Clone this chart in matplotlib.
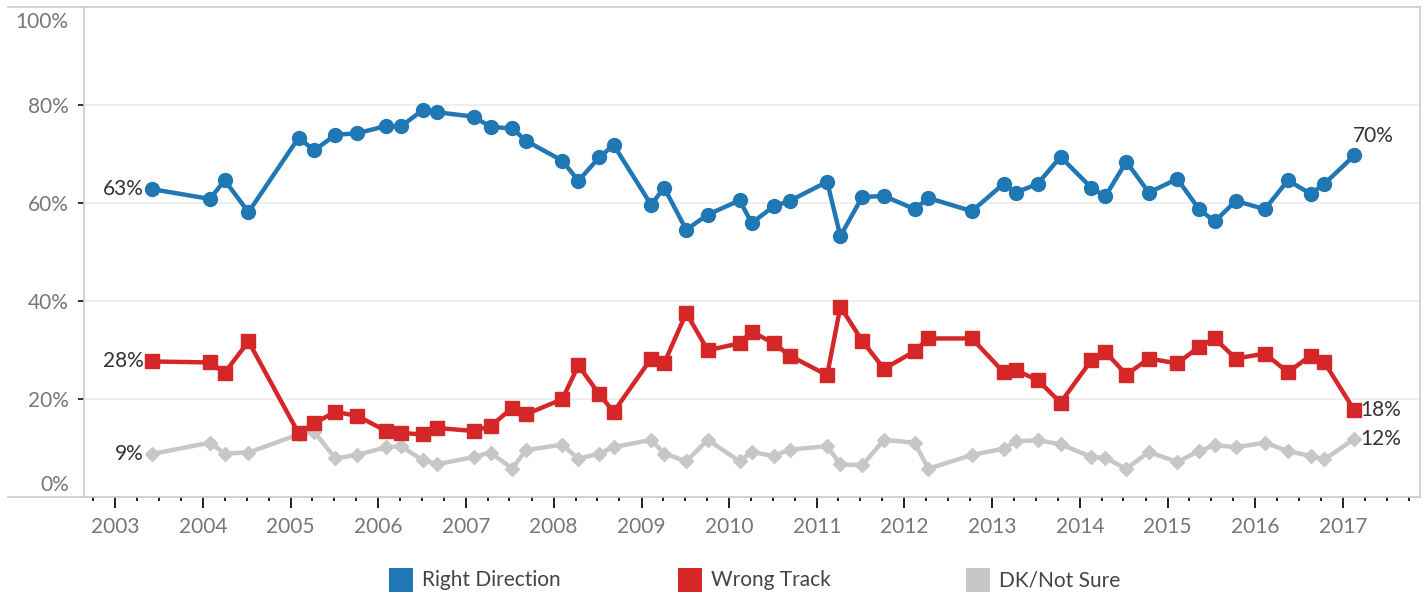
import matplotlib.pyplot as plt
import matplotlib.dates as mdates
import matplotlib.transforms as mtransforms
from matplotlib.patches import Rectangle
from matplotlib.lines import Line2D
import pandas as pd

plt.rcParams['font.family'] = ['Lato', 'DejaVu Sans']

datas = ['2003-06-03', '2004-01-30', '2004-04-01', '2004-07-09', '2005-02-03',
         '2005-04-09', '2005-07-06', '2005-10-04', '2006-02-03', '2006-04-05',
         '2006-07-06', '2006-09-03', '2007-02-03', '2007-04-13', '2007-07-13',
         '2007-09-07', '2008-02-06', '2008-04-13', '2008-07-09', '2008-09-07',
         '2009-02-10', '2009-04-05', '2009-07-06', '2009-10-04', '2010-02-13',
         '2010-04-05', '2010-07-06', '2010-09-10', '2011-02-13', '2011-04-09',
         '2011-07-09', '2011-10-08', '2012-02-13', '2012-04-09', '2012-10-08',
         '2013-02-17', '2013-04-09', '2013-07-09', '2013-10-12', '2014-02-17',
         '2014-04-16', '2014-07-13', '2014-10-15', '2015-02-10', '2015-05-12',
         '2015-07-16', '2015-10-12', '2016-02-10', '2016-05-16', '2016-08-19',
         '2016-10-15', '2017-02-17']

right_direction = [62.8, 60.8, 64.6, 58.1, 73.3, 70.7, 73.9, 74.2, 75.7, 75.6,
                   79.0, 78.5, 77.6, 75.5, 75.2, 72.7, 68.6, 64.5, 69.3, 71.8,
                   59.6, 63.1, 54.5, 57.6, 60.5, 55.9, 59.3, 60.4, 64.3, 53.2,
                   61.2, 61.4, 58.7, 61.0, 58.3, 63.9, 62.1, 63.9, 69.4, 63.1,
                   61.3, 68.4, 62.1, 64.9, 58.7, 56.2, 60.4, 58.7, 64.6, 61.8,
                   63.9, 69.7]

wrong_track = [27.6, 27.4, 25.3, 31.7, 12.9, 15.0, 17.3, 16.5, 13.4, 13.0,
               12.7, 14.0, 13.4, 14.4, 18.1, 16.8, 19.9, 26.8, 20.9, 17.3,
               28.2, 27.2, 37.5, 29.9, 31.3, 33.7, 31.3, 28.8, 24.8, 38.8,
               31.8, 26.1, 29.7, 32.3, 32.3, 25.4, 25.8, 23.8, 19.2, 27.8,
               29.6, 24.9, 28.2, 27.2, 30.6, 32.3, 28.2, 29.2, 25.4, 28.8,
               27.4, 17.6]

not_sure = [8.7, 11.0, 8.8, 9.0, 12.7, 13.2, 7.8, 8.5, 10.1, 10.3,
            7.4, 6.6, 8.1, 9.0, 5.7, 9.5, 10.6, 7.7, 8.8, 10.1,
            11.6, 8.8, 7.2, 11.6, 7.2, 9.1, 8.3, 9.6, 10.3, 6.6,
            6.4, 11.6, 11.0, 5.7, 8.5, 9.8, 11.3, 11.5, 10.7, 8.1,
            7.9, 5.7, 9.1, 7.1, 9.3, 10.5, 10.1, 11.0, 9.3, 8.3,
            7.6, 11.8]

nomes = ['Right Direction', 'Wrong Track', 'DK/Not Sure']
cores = ['#1f77b4', '#d62728', '#c7c7c7']
tam = 15

x = pd.to_datetime(datas)

fig = plt.figure(figsize=(14.28, 5.95), dpi=100)
ax = fig.add_axes([84 / 1428, 98.4 / 595, 1336 / 1428, 489.6 / 595])

ax.plot(x, not_sure, color=cores[2], linewidth=3.2, marker='D',
        markersize=7.5, zorder=2)
ax.plot(x, wrong_track, color=cores[1], linewidth=3.2, marker='s',
        markersize=9.5, zorder=3)
ax.plot(x, right_direction, color=cores[0], linewidth=3.2, marker='o',
        markersize=10, zorder=4)

# rotulos nas pontas
cor_texto = '#333333'
for serie in [right_direction, wrong_track, not_sure]:
    ax.annotate(f'{serie[0]:.0f}%', (x[0], serie[0]),
                xytext=(-6, 0), textcoords='offset points', ha='right',
                va='center', fontsize=tam, color=cor_texto)
ax.annotate(f'{right_direction[-1]:.0f}%', (x[-1], right_direction[-1]),
            xytext=(-1, 7), textcoords='offset points', ha='left',
            va='bottom', fontsize=tam, color=cor_texto)
ax.annotate(f'{wrong_track[-1]:.0f}%', (x[-1], wrong_track[-1]),
            xytext=(4, 0), textcoords='offset points', ha='left',
            va='center', fontsize=tam, color=cor_texto)
ax.annotate(f'{not_sure[-1]:.0f}%', (x[-1], not_sure[-1]),
            xytext=(4, 0), textcoords='offset points', ha='left',
            va='center', fontsize=tam, color=cor_texto)

ax.set_ylim(0, 100)
ax.set_xlim(pd.Timestamp('2002-08-24'), pd.Timestamp('2017-11-17'))

ax.set_yticks([0, 20, 40, 60, 80, 100])
ax.set_yticklabels([f'{v}%' for v in [0, 20, 40, 60, 80, 100]])
ax.tick_params(axis='y', length=4, width=1.3, color='#222222', pad=7,
               labelsize=tam, labelcolor='#777777')
ax.yaxis.get_major_ticks()[0].tick1line.set_visible(False)
ax.yaxis.get_major_ticks()[-1].tick1line.set_visible(False)

# 0% e 100% ficam para dentro do eixo
for lab in ax.get_yticklabels():
    if lab.get_text() == '0%':
        lab.set_va('bottom')
        lab.set_transform(lab.get_transform() + mtransforms.ScaledTranslation(
            0, 2 / 100, fig.dpi_scale_trans))
    elif lab.get_text() == '100%':
        lab.set_va('top')
        lab.set_transform(lab.get_transform() + mtransforms.ScaledTranslation(
            0, -5 / 100, fig.dpi_scale_trans))

ax.xaxis.set_major_locator(mdates.YearLocator())
ax.xaxis.set_major_formatter(mdates.DateFormatter('%Y'))
ax.xaxis.set_minor_locator(mdates.MonthLocator(bymonth=[4, 7, 10]))
ax.tick_params(axis='x', which='major', length=8, width=1.4, color='#222222',
               pad=7, labelsize=tam, labelcolor='#777777')
ax.tick_params(axis='x', which='minor', length=3, width=1.4, color='#222222')

for v in [20, 40, 60, 80]:
    ax.axhline(v, color='#efefef', linewidth=1.5, zorder=0)

for lado in ['left', 'right', 'top', 'bottom']:
    ax.spines[lado].set_color('#cccccc')
    ax.spines[lado].set_linewidth(1.2)

# linhas de cima e de baixo passam por baixo dos rotulos
fig.add_artist(Line2D([8 / 1428, 84 / 1428], [588 / 595, 588 / 595],
                      color='#cccccc', linewidth=1.2))
fig.add_artist(Line2D([8 / 1428, 84 / 1428], [98.4 / 595, 98.4 / 595],
                      color='#cccccc', linewidth=1.2))

# legenda
pos_legenda = [389, 678, 966]
for nome, cor, px in zip(nomes, cores, pos_legenda):
    fig.add_artist(Rectangle((px / 1428, 3 / 595), 24 / 1428, 24 / 595,
                             facecolor=cor, edgecolor='none'))
    fig.text((px + 33) / 1428, 14.5 / 595, nome, fontsize=tam,
             color='#444444', va='center', ha='left')

fig.savefig('out.png', dpi=100)
